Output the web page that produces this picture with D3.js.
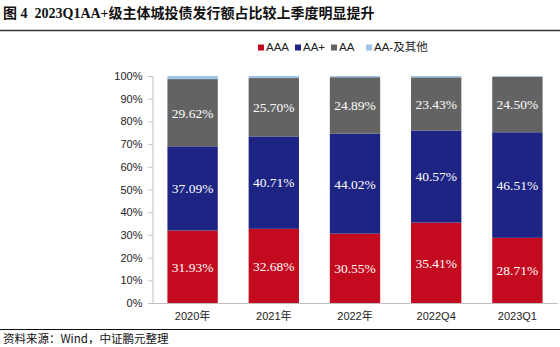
<!DOCTYPE html>
<html>
<head>
<meta charset="utf-8">
<script src="https://cdn.jsdelivr.net/npm/d3@7"></script>
<style>
  body { margin: 0; background: #fff; }
  svg { display: block; }
</style>
</head>
<body>
<svg id="chart" width="560" height="347"></svg>
<script>
// data
const categories = ['2020年', '2021年', '2022年', '2022Q4', '2023Q1'];
const seriesNames = ['AAA', 'AA+', 'AA', 'AA-及其他'];
const aaa = [31.93, 32.68, 30.55, 35.41, 28.71];
const aaPlus = [37.09, 40.71, 44.02, 40.57, 46.51];
const aa = [29.62, 25.70, 24.89, 23.43, 24.50];
const aaMinus = [1.36, 0.91, 0.54, 0.59, 0.28];
const yTicks = [0, 10, 20, 30, 40, 50, 60, 70, 80, 90, 100];
const colors = ['#C40A1E', '#1D2483', '#636363', '#9DC3E6'];

const svg = d3.select('#chart');
const W = 560, H = 347;
const cjk = '"Noto Sans CJK SC", sans-serif';
const serif = '"Liberation Serif", "Times New Roman", serif';

// title
svg.append('text')
  .attr('x', 3).attr('y', 18)
  .attr('font-family', serif + ', ' + cjk)
  .attr('font-weight', 'bold')
  .attr('font-size', 14)
  .attr('fill', '#111')
  .style('white-space', 'pre')
  .text('图 4  2023Q1AA+级主体城投债发行额占比较上季度明显提升');

svg.append('line')
  .attr('x1', 0).attr('x2', W).attr('y1', 30.5).attr('y2', 30.5)
  .attr('stroke', '#333').attr('stroke-width', 1.5);

svg.append('line')
  .attr('x1', 0).attr('x2', W).attr('y1', 329.5).attr('y2', 329.5)
  .attr('stroke', '#111').attr('stroke-width', 1.2);

svg.append('text')
  .attr('x', 3).attr('y', 343)
  .attr('font-family', cjk)
  .attr('font-size', 11.5)
  .attr('fill', '#111')
  .text('资料来源：Wind，中证鹏元整理');

// stacked data
const rows = categories.map((c, i) => ({
  cat: c, 'AAA': aaa[i], 'AA+': aaPlus[i], 'AA': aa[i], 'AA-及其他': aaMinus[i]
}));
const stacked = d3.stack().keys(seriesNames)(rows);

const x = d3.scaleBand().domain(categories).range([152, 558]).paddingInner(0.38).paddingOuter(0.19);
const y = d3.scaleLinear().domain([0, 100]).range([303, 76]);

// y axis
const yAxis = svg.append('g')
  .attr('transform', 'translate(152.5,0)')
  .call(d3.axisLeft(y).tickValues(yTicks).tickFormat(d => d + '%').tickSize(4).tickPadding(6));
yAxis.select('.domain').attr('stroke', '#bfbfbf');
yAxis.selectAll('.tick line').attr('stroke', '#bfbfbf');
yAxis.selectAll('.tick text')
  .attr('font-family', '"Liberation Sans", Arial, sans-serif')
  .attr('font-size', 11).attr('fill', '#222');

// bars
const layer = svg.append('g').selectAll('g')
  .data(stacked).join('g')
  .attr('fill', (d, i) => colors[i]);

layer.selectAll('rect')
  .data(d => d)
  .join('rect')
  .attr('x', d => x(d.data.cat))
  .attr('width', x.bandwidth())
  .attr('y', d => y(d[1]))
  .attr('height', d => y(d[0]) - y(d[1]));

// value labels for first three series
stacked.slice(0, 3).forEach(s => {
  svg.append('g').selectAll('text')
    .data(s).join('text')
    .attr('x', d => x(d.data.cat) + x.bandwidth() / 2)
    .attr('y', d => y((d[0] + d[1]) / 2))
    .attr('dy', '0.36em')
    .attr('text-anchor', 'middle')
    .attr('font-family', serif)
    .attr('font-size', 13.5)
    .attr('fill', '#fff')
    .text(d => (d[1] - d[0]).toFixed(2) + '%');
});

// x axis
const xAxis = svg.append('g')
  .attr('transform', 'translate(0,303.5)')
  .call(d3.axisBottom(x).tickSize(0).tickPadding(9));
xAxis.select('.domain').attr('stroke', '#bfbfbf').attr('d', 'M152,0H558');
xAxis.selectAll('.tick text')
  .attr('font-family', '"Liberation Sans", Arial, ' + cjk)
  .attr('font-size', 11).attr('fill', '#222');

// legend
const legendX = [258, 295, 331, 366];
const legend = svg.append('g').selectAll('g')
  .data(seriesNames).join('g')
  .attr('transform', (d, i) => `translate(${legendX[i]},44.5)`);
legend.append('rect')
  .attr('width', 6).attr('height', 6)
  .attr('fill', (d, i) => colors[i]);
legend.append('text')
  .attr('x', 8).attr('y', 6.5)
  .attr('font-family', '"Liberation Sans", Arial, ' + cjk)
  .attr('font-size', 11.5).attr('fill', '#222')
  .text(d => d);
</script>
</body>
</html>
